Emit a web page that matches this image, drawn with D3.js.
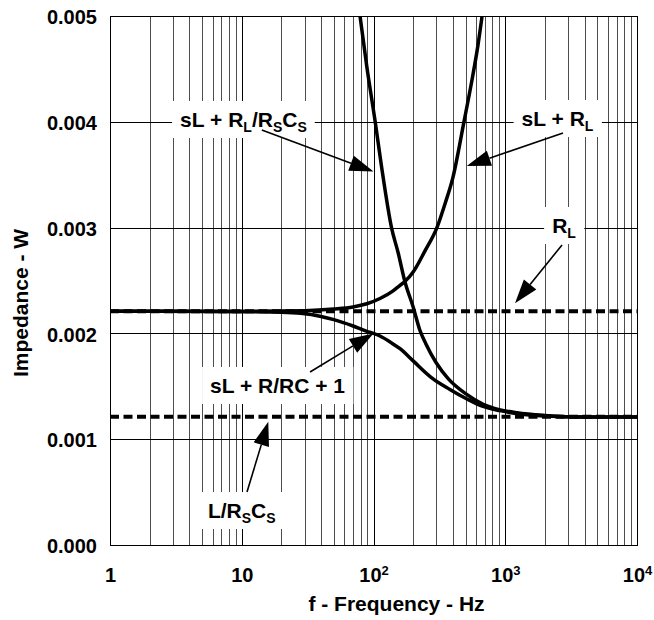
<!DOCTYPE html>
<html>
<head>
<meta charset="utf-8">
<script src="https://cdn.jsdelivr.net/npm/d3@7"></script>
<style>
html, body { margin: 0; padding: 0; background: #fff; }
svg { display: block; font-family: Arial, "Liberation Sans", Helvetica, sans-serif; font-weight: bold; }
</style>
</head>
<body>
<svg id="chart" width="654" height="620"></svg>
<script>
// ---------- data ----------
const xTickValues = [1, 10, 100, 1000, 10000];
const xTickBase = ["1", "10", "10", "10", "10"];
const xTickSup = ["", "", "2", "3", "4"];
const yTickValues = [0, 0.001, 0.002, 0.003, 0.004, 0.005];
const yTickLabels = ["0.000", "0.001", "0.002", "0.003", "0.004", "0.005"];

// dashed reference levels (ohm)
const levelRL = 0.00221;
const levelLRsCs = 0.001213;

// sL + RL (rising)
const freqRise = [1, 10, 30, 50, 70, 89, 112, 140, 159, 173, 200, 246, 303, 350, 400, 486, 560, 620, 667];
const zRise = [0.00221, 0.00221, 0.002215, 0.00223, 0.00225, 0.00228, 0.00233, 0.0024, 0.002455, 0.00249, 0.00258, 0.00278, 0.003, 0.00323, 0.00347, 0.004, 0.0044, 0.00472, 0.005];

// sL + RL/RsCs (falling)
const freqFall = [79, 89, 103, 115, 137, 154, 173, 200, 225, 250, 300, 370, 500, 680, 900, 1230, 2000, 4000, 10000];
const zFall = [0.005, 0.00452, 0.004, 0.00358, 0.003, 0.00276, 0.00249, 0.00225, 0.00203, 0.0019, 0.00172, 0.00157, 0.00143, 0.00133, 0.00128, 0.00125, 0.001225, 0.00121, 0.00121];

// sL + R/RC + 1 (step down)
const freqLow = [1, 10, 20, 28, 40, 50, 70, 89, 100, 112, 135, 159, 200, 280, 380, 512, 678, 912, 1230, 2000, 4000, 10000];
const zLow = [0.00221, 0.002205, 0.0022, 0.00219, 0.00216, 0.00213, 0.00207, 0.00202, 0.002, 0.001975, 0.001915, 0.001855, 0.00174, 0.001575, 0.00147, 0.00138, 0.00131, 0.00127, 0.00124, 0.00122, 0.00121, 0.00121];

// annotations: text pieces [text, isSubscript], anchor (freq, ohm), arrow tail & tip (freq, ohm)
const annoText = [
  [["sL + R", 0], ["L", 1], ["/R", 0], ["S", 1], ["C", 0], ["S", 1]],
  [["sL + R", 0], ["L", 1]],
  [["R", 0], ["L", 1]],
  [["sL + R/RC + 1", 0]],
  [["L/R", 0], ["S", 1], ["C", 0], ["S", 1]]
];
const annoFreq = [10.3, 2493, 2792, 18.7, 10];
const annoZ = [0.003951, 0.00396, 0.002949, 0.001437, 0.000255];
const arrowTail = [[14.2, 0.003922], [2744, 0.003894], [2698, 0.002836], [33, 0.001635], [10.96, 0.000501]];
const arrowTip = [[100, 0.00353], [510, 0.003582], [1186, 0.002285], [100, 0.002], [15.9, 0.001166]];

// ---------- layout ----------
const svg = d3.select("#chart");
const plotL = 110, plotR = 637, plotT = 16, plotB = 545;
const x = d3.scaleLog().domain([1, 10000]).range([plotL, plotR]);
const y = d3.scaleLinear().domain([0, 0.005]).range([plotB, plotT]);
const xr = x.copy().interpolate(d3.interpolateRound);
const yr = y.copy().interpolate(d3.interpolateRound);

// vertical grid
const vGrid = svg.append("g").attr("transform", `translate(0,${plotB})`)
  .call(d3.axisBottom(xr).tickValues(x.ticks().filter(d => d > 1 && d < 10000)).tickSize(-(plotB - plotT)).tickFormat(""));
vGrid.select(".domain").remove();
vGrid.selectAll(".tick line")
  .attr("stroke", d => (Math.abs(Math.log10(d) - Math.round(Math.log10(d))) < 1e-9 ? "#000" : "#4d4d4d"))
  .attr("stroke-width", 1);

// horizontal grid
const hGrid = svg.append("g").attr("transform", `translate(${plotL},0)`)
  .call(d3.axisLeft(yr).tickValues(yTickValues.slice(1, -1)).tickSize(-(plotR - plotL)).tickFormat(""));
hGrid.select(".domain").remove();
hGrid.selectAll(".tick line").attr("stroke", "#000").attr("stroke-width", 1);

// frame
svg.append("rect").attr("x", plotL + 0.5).attr("y", plotT + 0.5)
  .attr("width", plotR - plotL).attr("height", plotB - plotT)
  .attr("fill", "none").attr("stroke", "#000").attr("stroke-width", 1);

// clip
svg.append("clipPath").attr("id", "plotclip").append("rect")
  .attr("x", plotL).attr("y", plotT).attr("width", plotR - plotL + 1).attr("height", plotB - plotT);

const boxLayer = svg.append("g");
const curveLayer = svg.append("g").attr("clip-path", "url(#plotclip)");
const arrowLayer = svg.append("g");
const textLayer = svg.append("g");

annoText.forEach((parts, i) => {
  const t = textLayer.append("text")
    .attr("x", x(annoFreq[i])).attr("y", y(annoZ[i]))
    .attr("text-anchor", "middle").attr("font-size", 21).attr("fill", "#000");
  let inSub = false;
  parts.forEach(([txt, sub]) => {
    const ts = t.append("tspan").text(txt);
    if (sub) { ts.attr("font-size", 14).attr("dy", inSub ? 0 : 5); inSub = true; }
    else { ts.attr("dy", inSub ? -5 : 0); inSub = false; }
  });
  const bb = t.node().getBBox();
  const base = y(annoZ[i]);
  boxLayer.append("rect")
    .attr("x", bb.x - 8).attr("y", base - 26)
    .attr("width", bb.width + 16).attr("height", 37)
    .attr("fill", "#fff");
});

// dashed levels
[levelRL, levelLRsCs].forEach(v => {
  curveLayer.append("path")
    .attr("d", d3.line()([[x(1), y(v)], [x(10000), y(v)]]))
    .attr("stroke", "#000").attr("stroke-width", 4).attr("stroke-dasharray", "9,4.5").attr("fill", "none");
});

// curves
const lineGen = d3.line().x(d => x(d[0])).y(d => y(d[1])).curve(d3.curveMonotoneX);
[[freqRise, zRise], [freqFall, zFall], [freqLow, zLow]].forEach(([fs, zs]) => {
  curveLayer.append("path")
    .attr("d", lineGen(fs.map((f, j) => [f, zs[j]])))
    .attr("stroke", "#000").attr("stroke-width", 3.5).attr("fill", "none")
    .attr("stroke-linejoin", "round").attr("stroke-linecap", "round");
});

// arrows
arrowTail.forEach((tail, i) => {
  const x0 = x(tail[0]), y0 = y(tail[1]);
  const x1 = x(arrowTip[i][0]), y1 = y(arrowTip[i][1]);
  const len = Math.hypot(x1 - x0, y1 - y0);
  const ux = (x1 - x0) / len, uy = (y1 - y0) / len;
  const hl = 24, hw = 8;
  const bx = x1 - ux * hl, by = y1 - uy * hl;
  arrowLayer.append("path")
    .attr("d", d3.line()([[x0, y0], [bx, by]]))
    .attr("stroke", "#000").attr("stroke-width", 1.6).attr("fill", "none");
  arrowLayer.append("path")
    .attr("d", d3.line()([[x1, y1], [bx - uy * hw, by + ux * hw], [bx + uy * hw, by - ux * hw]]) + "Z")
    .attr("fill", "#000");
});

// y tick labels
const yAxis = svg.append("g").attr("transform", `translate(${plotL},0)`)
  .call(d3.axisLeft(y).tickValues(yTickValues).tickFormat((d, i) => yTickLabels[i]).tickSize(0).tickPadding(13));
yAxis.select(".domain").remove();
yAxis.selectAll("text").attr("font-size", 20).attr("font-family", null).attr("dy", "0.38em").attr("fill", "#000");

// x tick labels
const xAxis = svg.append("g").attr("transform", `translate(0,${plotB})`)
  .call(d3.axisBottom(x).tickValues(xTickValues).tickFormat("").tickSize(0));
xAxis.select(".domain").remove();
xAxis.selectAll(".tick text").each(function (d, i) {
  const t = d3.select(this).attr("y", 37).attr("dy", 0).attr("font-size", 20).attr("font-family", null).attr("fill", "#000");
  t.append("tspan").text(xTickBase[i]);
  if (xTickSup[i]) t.append("tspan").text(xTickSup[i]).attr("font-size", 13).attr("dy", -7);
});

// axis titles
svg.append("text").attr("x", 396.5).attr("y", 611).attr("text-anchor", "middle")
  .attr("font-size", 21).text("f - Frequency - Hz");
svg.append("text").attr("transform", "translate(28,303) rotate(-90)").attr("text-anchor", "middle")
  .attr("font-size", 21).text("Impedance - W");
</script>
</body>
</html>
